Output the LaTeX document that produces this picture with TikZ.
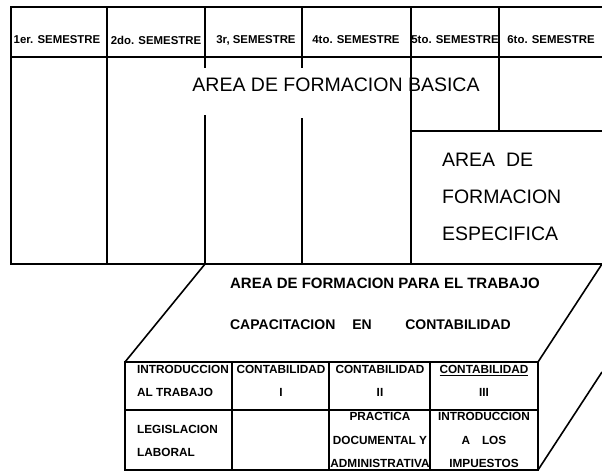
\documentclass[tikz,border=0pt]{standalone}
\usepackage{fontspec}
\setmainfont{Liberation Sans}
\usetikzlibrary{positioning}

\begin{document}
\begin{tikzpicture}[x=1pt,y=-1pt,line width=1.6pt,
                    sem/.style={font=\bfseries\fontsize{11.4}{12}\selectfont},
                    area/.style={font=\fontsize{19.5}{37}\selectfont},
                    trab/.style={font=\bfseries\fontsize{15}{16}\selectfont},
                    capa/.style={font=\bfseries\fontsize{14}{16}\selectfont},
                    cell/.style={font=\bfseries\fontsize{11.8}{23}\selectfont,align=center},
                    cellb/.style={font=\bfseries\fontsize{11.8}{23.5}\selectfont,align=center}]

  \useasboundingbox (0,0) rectangle (602,472);

  \coordinate (tl) at (11,7);
  \coordinate (bl) at (11,264);
  \coordinate (br) at (602,264);
  \coordinate (fa) at (205,264);
  \coordinate (ftl) at (125,362);
  \coordinate (ftr) at (538,362);
  \coordinate (fbl) at (125,470);
  \coordinate (fbr) at (538,470);

  \draw (602,7) -- (tl) -- (bl) -- (br);
  \draw (11,57) -- (602,57);
  \draw (107,7) -- (107,264);
  \draw (205,7) -- (205,68) (205,115) -- (fa);
  \draw (302,7) -- (302,68) (302,118) -- (302,264);
  \draw (411,7) -- (411,264);
  \draw (499,7) -- (499,131);
  \draw (411,131) -- (602,131);

  \node[sem] (sem1) at (57,40)  {1er. SEMESTRE};
  \node[sem] (sem2) at (156,40) {2do. SEMESTRE};
  \node[sem] (sem3) at (256,40) {3r, SEMESTRE};
  \node[sem] (sem4) at (356,40) {4to. SEMESTRE};
  \node[sem] (sem5) at (455,40) {5to. SEMESTRE};
  \node[sem] (sem6) at (551,40) {6to. SEMESTRE};

  \node[area] (basica) at (336,85) {AREA DE FORMACION BASICA};
  \node[area,align=left,anchor=west] (especifica) at (438,197)
       {AREA\ \ DE\\FORMACION\\ESPECIFICA};

  \draw (fa) -- (ftl);
  \draw (br) -- (ftr);
  \draw (602,372) -- (fbr);
  \draw (ftl) rectangle (fbr);
  \draw (125,410) -- (538,410);
  \draw (232,362) -- (232,470);
  \draw (329,362) -- (329,470);
  \draw (430,362) -- (430,470);

  \node[trab,anchor=west] (trabajo) at (226,283) {AREA DE FORMACION PARA EL TRABAJO};
  \node[capa,anchor=west] (capacitacion) at (226,325) {CAPACITACION};
  \node[capa] (en) at (362,325) {EN};
  \node[capa] (contab) at (458,325) {CONTABILIDAD};

  \node[cell,align=left,anchor=west] (intro) at (133,381) {INTRODUCCION\\AL TRABAJO};
  \node[cell] (cont1) at (281,381) {CONTABILIDAD\\I};
  \node[cell] (cont2) at (380,381) {CONTABILIDAD\\II};
  \node[cell] (cont3) at (484,381) {\underline{CONTABILIDAD}\\III};
  \node[cell,align=left,anchor=west] (legis) at (133,441) {LEGISLACION\\LABORAL};
  \node[cellb] (practica) at (380,440) {PRACTICA\\DOCUMENTAL Y\\ADMINISTRATIVA};
  \node[cellb] (impuestos) at (484,440) {INTRODUCCION\\A\quad LOS\\IMPUESTOS};
\end{tikzpicture}
\end{document}
